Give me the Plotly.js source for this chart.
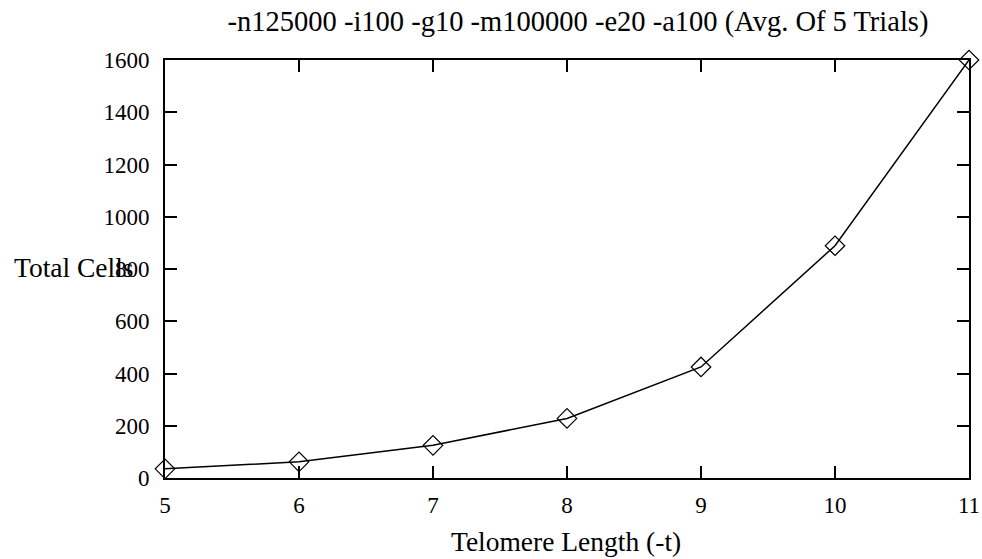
<!DOCTYPE html>
<html>
<head>
<meta charset="utf-8">
<script src="https://cdn.plot.ly/plotly-3.0.1.min.js"></script>
<style>body{margin:0;background:#fff;} #chart{width:982px;height:559px;}</style>
</head>
<body>
<div id="chart"></div>
<script>
const telomereLength = [5, 6, 7, 8, 9, 10, 11];
const totalCells = [35, 62, 125, 228, 425, 889, 1600];
const xTicks = [5, 6, 7, 8, 9, 10, 11];
const yTicks = [0, 200, 400, 600, 800, 1000, 1200, 1400, 1600];
const chartTitle = '-n125000 -i100 -g10 -m100000 -e20 -a100 (Avg. Of 5 Trials)';
const xTitle = 'Telomere Length (-t)';
const yTitle = 'Total Cells';

const fam = '"Liberation Serif", "Times New Roman", serif';
const tickFont = {family: fam, size: 23, color: '#000'};
const titleFont = {family: fam, size: 28.5, color: '#000'};
const axisTitleFont = {family: fam, size: 27.5, color: '#000'};

const trace = {
  x: telomereLength,
  y: totalCells,
  type: 'scatter',
  mode: 'lines+markers',
  line: {color: '#000', width: 1.5},
  marker: {symbol: 'diamond-open', size: 15, color: '#000', line: {width: 1.2, color: '#000'}},
  cliponaxis: false,
  hoverinfo: 'none'
};

const layout = {
  width: 982, height: 559,
  margin: {l: 165, r: 13, t: 60, b: 81},
  paper_bgcolor: '#fff', plot_bgcolor: '#fff',
  font: tickFont,
  showlegend: false,
  title: {text: chartTitle, font: titleFont, xref: 'paper', x: (578 - 165) / 804, xanchor: 'center', yref: 'container', y: 1 - 21/559, yanchor: 'middle'},
  xaxis: {
    range: [5, 11], tickvals: xTicks, ticktext: xTicks.map(String),
    showgrid: false, zeroline: false, showline: true, linecolor: '#000', linewidth: 2,
    mirror: 'allticks', ticks: 'inside', ticklen: 12, tickwidth: 2, tickcolor: '#000',
    tickfont: tickFont, ticklabelstandoff: 5
  },
  yaxis: {
    range: [0, 1600], tickvals: yTicks, ticktext: yTicks.map(String),
    showgrid: false, zeroline: false, showline: true, linecolor: '#000', linewidth: 2,
    mirror: 'allticks', ticks: 'inside', ticklen: 12, tickwidth: 2, tickcolor: '#000',
    tickfont: tickFont, ticklabelstandoff: 9
  },
  annotations: [
    {
      text: yTitle, font: axisTitleFont, showarrow: false,
      xref: 'paper', x: -(165 - 12) / 804, xanchor: 'left',
      yref: 'paper', y: (478 - 267) / 418, yanchor: 'middle'
    },
    {
      text: xTitle, font: axisTitleFont, showarrow: false,
      xref: 'paper', x: (566 - 165) / 804, xanchor: 'center',
      yref: 'paper', y: -(541 - 478) / 418, yanchor: 'middle'
    }
  ]
};

Plotly.newPlot('chart', [trace], layout, {staticPlot: true, displayModeBar: false});
</script>
</body>
</html>
